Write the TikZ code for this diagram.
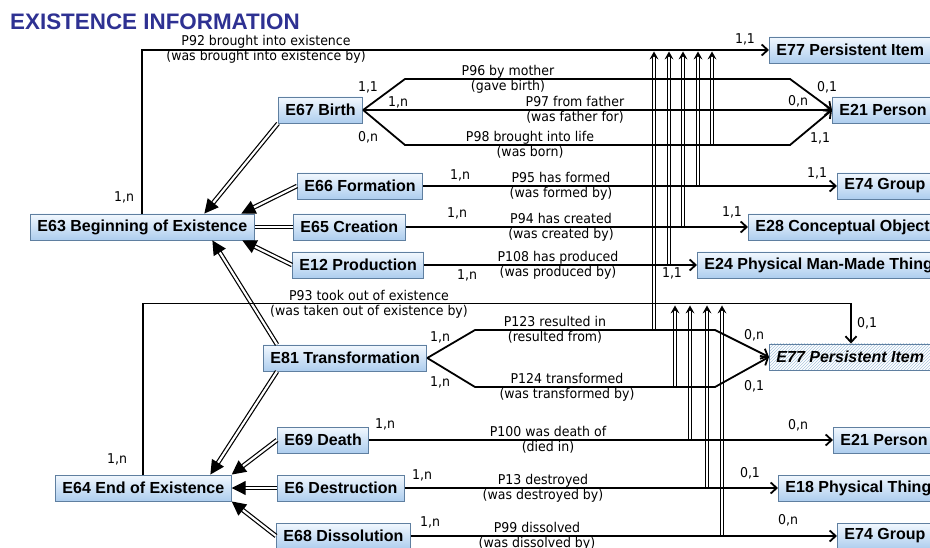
\documentclass[tikz,border=0pt]{standalone}
\usepackage{fontspec}
\setmainfont{Liberation Sans}
\newfontfamily\labfont[FakeStretch=0.93]{DejaVu Sans}
\usetikzlibrary{arrows.meta,patterns,decorations.markings}
\definecolor{tblue}{HTML}{2E3192}
\definecolor{btop}{HTML}{F2F8FE}
\definecolor{bbot}{HTML}{ADCDEE}
\definecolor{bline}{HTML}{5F7FA0}
\definecolor{hatch}{HTML}{A9C6DE}

\begin{document}
\begin{tikzpicture}[
  x=1pt, y=-1pt,
  box/.style={draw=bline, line width=0.9pt, top color=btop, bottom color=bbot,
    anchor=west, minimum height=26pt, inner xsep=7pt, inner ysep=0pt,
    font=\fontsize{16}{18}\selectfont\bfseries},
  hbox/.style={draw=bline, line width=0.9pt, pattern=north east lines, pattern color=hatch,
    anchor=west, minimum height=26pt, inner xsep=7pt, inner ysep=0pt,
    font=\fontsize{16}{18}\selectfont\bfseries\itshape},
  rel/.style={line width=1.8pt},
  arr/.style={-{Straight Barb[length=6pt,width=11pt]}},
  isa/.style={double=white, double distance=2.2pt, line width=1.2pt, -{Triangle[length=14pt,width=14pt]}},
  sub/.style={double=white, double distance=2pt, line width=1pt, shorten >=5pt,
    postaction={decorate, decoration={markings,
      mark=at position 1 with {\fill[black] (0pt,0pt) -- (-8pt,4.5pt) -- (-5pt,0pt) -- (-8pt,-4.5pt) -- cycle;}}}},
  lab/.style={font=\labfont\fontsize{13.5}{15}\selectfont, align=center, inner sep=0pt},
  card/.style={font=\labfont\fontsize{13.5}{15}\selectfont, inner sep=0pt}
]
\useasboundingbox (0,0) rectangle (930,548);
\clip (0,0) rectangle (930,548);

\node[font=\fontsize{22.4}{24}\selectfont\bfseries, text=tblue, anchor=base west, inner sep=0pt]
  (title) at (10,30) {EXISTENCE INFORMATION};

% classes
\node[box] (e63) at (30,227) {E63 Beginning of Existence};
\node[box] (e64) at (55,488) {E64 End of Existence};
\node[box] (e67) at (278,110) {E67 Birth};
\node[box] (e66) at (297,186) {E66 Formation};
\node[box] (e65) at (293,227) {E65 Creation};
\node[box] (e12) at (292,265) {E12 Production};
\node[box] (e81) at (263,358) {E81 Transformation};
\node[box] (e69) at (277,440) {E69 Death};
\node[box] (e6) at (277,488) {E6 Destruction};
\node[box] (e68) at (276,536) {E68 Dissolution};
\node[box] (e77a) at (769,50) {E77 Persistent Item};
\node[box] (e21a) at (832,110) {E21 Person};
\node[box] (e74a) at (837,186) {E74 Group};
\node[box] (e28) at (748,227) {E28 Conceptual Object};
\node[box] (e24) at (697,265) {E24 Physical Man-Made Thing};
\node[hbox] (e77b) at (769,357) {E77 Persistent Item};
\node[box] (e21b) at (833,440) {E21 Person};
\node[box] (e18) at (778,488) {E18 Physical Thing};
\node[box] (e74b) at (837,536) {E74 Group};

% subclass links
\draw[isa] (e67.south west) -- ([xshift=62pt]e63.north);
\draw[isa] (e66.west) -- ([xshift=99pt]e63.north);
\draw[isa, -] (e65.west) -- (e63.east);
\draw[isa] (e12.west) -- ([xshift=100pt]e63.south);
\draw[isa] ([xshift=14pt]e81.north west) -- ([xshift=70pt]e63.south);
\draw[isa] ([xshift=14pt]e81.south west) -- ([xshift=67pt]e64.north);
\draw[isa] (e69.west) -- (e64.north east);
\draw[isa] (e6.west) -- (e64.east);
\draw[isa] (e68.west) -- (e64.south east);

% subproperty links
\draw[sub] (712,145) -- (712,51.5);
\draw[sub] (698,186) -- (698,51.5);
\draw[sub] (683,227) -- (683,51.5);
\draw[sub] (669,265) -- (669,51.5);
\draw[sub] (654,330) -- (654,51.5);
\draw[sub] (675,387) -- (675,305.5);
\draw[sub] (690,440) -- (690,305.5);
\draw[sub] (707,488) -- (707,305.5);
\draw[sub] (722,536) -- (722,305.5);

% P92 / P93
\draw[rel, arr] (e63.north) |- (e77a.west);
\node[lab] (l92) at (266,49) {P92 brought into existence\\(was brought into existence by)};
\node[card] (c92a) at (124,197) {1,n};
\node[card] (c92b) at (745,39) {1,1};
\draw[rel, arr] (e64.north) |- ([xshift=82pt,yshift=40pt]e77b.north west) -- ([xshift=82pt]e77b.north west);
\node[lab] (l93) at (369,304) {P93 took out of existence\\(was taken out of existence by)};
\node[card] (c93a) at (117,459) {1,n};
\node[card] (c93b) at (867,323) {0,1};

% birth
\coordinate (b96a) at (405,79); \coordinate (b96b) at (790,79);
\coordinate (b98a) at (405,145); \coordinate (b98b) at (790,145);
\draw[rel, arr] (e67.east) -- (b96a) -- (b96b) -- (e21a.west);
\draw[rel, arr] (e67.east) -- (e21a.west);
\draw[rel, arr] (e67.east) -- (b98a) -- (b98b) -- (e21a.west);
\node[lab] (l96) at (508,79) {P96 by mother\\(gave birth)};
\node[lab] (l97) at (575,110) {P97 from father\\(was father for)};
\node[lab] (l98) at (530,145) {P98 brought into life\\(was born)};
\node[card] (c96a) at (368,87) {1,1};
\node[card] (c97a) at (398,102) {1,n};
\node[card] (c98a) at (368,137) {0,n};
\node[card] (c96b) at (827,87) {0,1};
\node[card] (c97b) at (798,101) {0,n};
\node[card] (c98b) at (820,138) {1,1};

% formation, creation, production
\draw[rel, arr] (e66.east) -- (e74a.west);
\node[lab] (l95) at (561,186) {P95 has formed\\(was formed by)};
\node[card] (c95a) at (460,175) {1,n};
\node[card] (c95b) at (817,173) {1,1};
\draw[rel, arr] (e65.east) -- (e28.west);
\node[lab] (l94) at (561,227) {P94 has created\\(was created by)};
\node[card] (c94a) at (457,213) {1,n};
\node[card] (c94b) at (732,212) {1,1};
\draw[rel, arr] (e12.east) -- (e24.west);
\node[lab] (l108) at (558,265) {P108 has produced\\(was produced by)};
\node[card] (c108a) at (467,275) {1,n};
\node[card] (c108b) at (672,273) {1,1};

% transformation
\coordinate (b123a) at (475,330); \coordinate (b123b) at (715,330);
\coordinate (b124a) at (475,387); \coordinate (b124b) at (715,387);
\draw[rel, arr] (e81.east) -- (b123a) -- (b123b) -- (e77b.west);
\draw[rel, arr] (e81.east) -- (b124a) -- (b124b) -- (e77b.west);
\node[lab] (l123) at (555,330) {P123 resulted in\\(resulted from)};
\node[lab] (l124) at (567,387) {P124 transformed\\(was transformed by)};
\node[card] (c123a) at (440,337) {1,n};
\node[card] (c124a) at (440,382) {1,n};
\node[card] (c123b) at (754,335) {0,n};
\node[card] (c124b) at (754,386) {0,1};

% death, destruction, dissolution
\draw[rel, arr] (e69.east) -- (e21b.west);
\node[lab] (l100) at (548,440) {P100 was death of\\(died in)};
\node[card] (c100a) at (385,424) {1,n};
\node[card] (c100b) at (798,425) {0,n};
\draw[rel, arr] (e6.east) -- (e18.west);
\node[lab] (l13) at (543,488) {P13 destroyed\\(was destroyed by)};
\node[card] (c13a) at (422,475) {1,n};
\node[card] (c13b) at (750,473) {0,1};
\draw[rel, arr] (e68.east) -- (e74b.west);
\node[lab] (l99) at (537,536) {P99 dissolved\\(was dissolved by)};
\node[card] (c99a) at (430,522) {1,n};
\node[card] (c99b) at (788,520) {0,n};
\end{tikzpicture}
\end{document}
